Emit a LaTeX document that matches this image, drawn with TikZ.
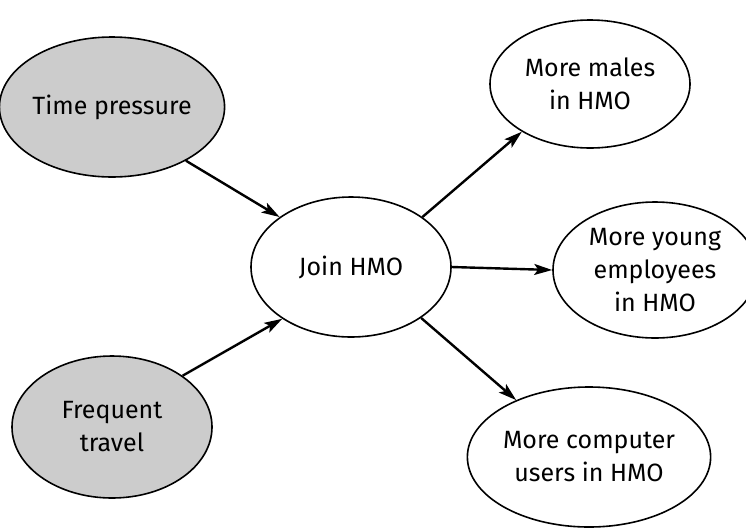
\documentclass[tikz,border=0pt]{standalone}
\usepackage{fontspec}
\setmainfont{Fira Sans}
\usetikzlibrary{shapes.geometric,arrows.meta}
\begin{document}
\begin{tikzpicture}[x=1pt,y=-1pt,
  bubble/.style={ellipse,draw=black,line width=1.6pt,inner sep=0pt,
    align=center,font=\fontsize{25}{33}\selectfont},
  cause/.style={bubble,fill=black!20},
  effect/.style={bubble,fill=white},
  link/.style={line width=2.4pt,-{Stealth[length=18pt,width=11pt,inset=4pt]}}]
\useasboundingbox (0,0) rectangle (746,531);
% causes on the left
\node[cause,minimum width=200pt,minimum height=140pt] (tp) at (112,107) {Time pressure};
\node[cause,minimum width=200pt,minimum height=142pt] (ft) at (112,427) {Frequent\\travel};
% central decision
\node[effect,minimum width=200pt,minimum height=140pt] (join) at (351,267) {Join HMO};
% consequences on the right
\node[effect,minimum width=200pt,minimum height=128pt] (males) at (590,84) {More males\\in HMO};
\node[effect,minimum width=204pt,minimum height=136pt] (young) at (655,270) {More young\\employees\\in HMO};
\node[effect,minimum width=202pt,minimum height=140pt] (comp) at (589,457) {More computer\\users in HMO};
% connectors
\draw[link] (tp.-36) -- (join.145);
\draw[link] (ft.36) -- (join.217);
\draw[link] (join.35) -- (males.215);
\draw[link] (join.0) -- (young.180);
\draw[link] (join.-36) -- (comp.142);
\end{tikzpicture}
\end{document}
